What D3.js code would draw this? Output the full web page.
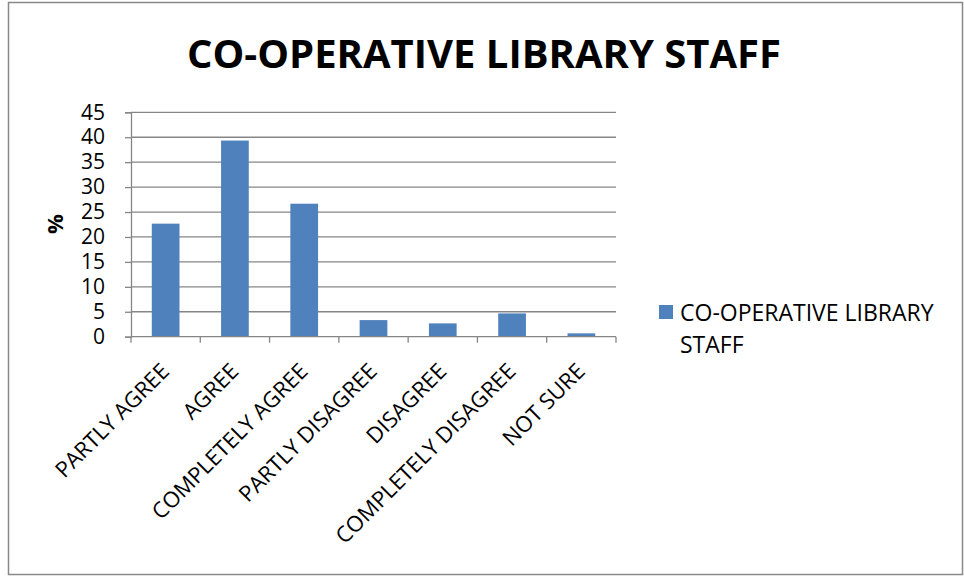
<!DOCTYPE html>
<html><head><meta charset="utf-8">
<script src="https://cdn.jsdelivr.net/npm/d3@7"></script>
<style>body{margin:0;background:#fff}svg{display:block}text{font-family:"Open Sans",sans-serif}</style>
</head><body><svg id="c" width="964" height="577"></svg>
<script>
const categories = ["PARTLY AGREE","AGREE","COMPLETELY AGREE","PARTLY DISAGREE","DISAGREE","COMPLETELY DISAGREE","NOT SURE"];
const values = [22.67,39.33,26.67,3.33,2.67,4.67,0.67];
const yTicks = [0,5,10,15,20,25,30,35,40,45];
const seriesName = "CO-OPERATIVE LIBRARY STAFF";
const title = "CO-OPERATIVE LIBRARY STAFF";

const svg = d3.select("#c");
svg.append("rect").attr("x",8.5).attr("y",2.5).attr("width",954).attr("height",572).attr("fill","#fff").attr("stroke","#898989").attr("stroke-width",1.5);

const L=131,R=616,T=112.3,B=336.7;
const y = d3.scaleLinear().domain([0,45]).range([B,T]);
const x = d3.scaleBand().domain(categories).range([L,R]).paddingInner(0.6).paddingOuter(0.3);
const xb = d3.scaleLinear().domain([0,categories.length]).range([L,R]);

// gridlines
svg.append("g").selectAll("line").data(yTicks.filter(d=>d>0)).join("line")
 .attr("x1",L).attr("x2",R).attr("y1",d=>y(d)).attr("y2",d=>y(d)).attr("stroke","#868686").attr("stroke-width",1.3);

// bars
svg.append("g").selectAll("rect").data(values).join("rect")
 .attr("x",(d,i)=>x(categories[i])).attr("width",x.bandwidth())
 .attr("y",d=>y(d)).attr("height",d=>B-y(d)).attr("fill","#4F81BD");

// y axis
const ya = svg.append("g").attr("transform",`translate(${L},0)`).call(d3.axisLeft(y).tickValues(yTicks).tickSize(6).tickPadding(20));
ya.select(".domain").attr("stroke","#868686").attr("stroke-width",1.3);
ya.selectAll(".tick line").attr("stroke","#868686").attr("stroke-width",1.3);
ya.selectAll(".tick text").attr("font-size",21).attr("fill","#000").attr("font-family","Open Sans");

// x axis
svg.append("line").attr("x1",L).attr("x2",R).attr("y1",B).attr("y2",B).attr("stroke","#868686").attr("stroke-width",1.3);
svg.append("g").selectAll("line").data(d3.range(categories.length+1)).join("line")
 .attr("x1",d=>xb(d)).attr("x2",d=>xb(d)).attr("y1",B).attr("y2",B+6).attr("stroke","#868686").attr("stroke-width",1.3);
svg.append("g").selectAll("text").data(categories).join("text")
 .attr("transform",d=>`translate(${x(d)+x.bandwidth()/2+5},${B+36}) rotate(-45)`)
 .attr("text-anchor","end").attr("font-size",22).attr("fill","#000").text(d=>d);

// y label
svg.append("text").attr("transform",`translate(63,224) rotate(-90)`).attr("text-anchor","middle")
 .attr("font-size",22).attr("font-weight","bold").text("%");

// title
svg.append("text").attr("x",484).attr("y",68).attr("text-anchor","middle").attr("font-size",40).attr("font-weight","bold").attr("textLength",594).attr("lengthAdjust","spacingAndGlyphs").text(title);

// legend
svg.append("rect").attr("x",659).attr("y",305).attr("width",14).attr("height",14).attr("fill","#4F81BD");
const words = seriesName.split(" ");
svg.append("text").attr("x",680).attr("y",321).attr("font-size",23).text(words.slice(0,2).join(" "));
svg.append("text").attr("x",680).attr("y",353).attr("font-size",23).text(words.slice(2).join(" "));
</script></body></html>
